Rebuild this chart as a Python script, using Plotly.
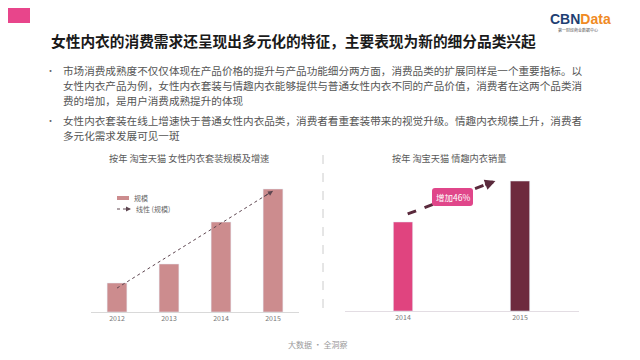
import numpy as np
import plotly.graph_objects as go

# ---------------- data ----------------
left_years = ["2012", "2013", "2014", "2015"]
left_values = [29, 48, 90, 123]          # 女性内衣套装规模 (relative)
right_years = ["2014", "2015"]
right_values = [100, 146]                # 情趣内衣销量 (relative index)

title_text = "女性内衣的消费需求还呈现出多元化的特征，主要表现为新的细分品类兴起"
bullet_lines = [
    ("•", "市场消费成熟度不仅仅体现在产品价格的提升与产品功能细分两方面，消费品类的扩展同样是一个重要指标。以"),
    ("", "女性内衣产品为例，女性内衣套装与情趣内衣能够提供与普通女性内衣不同的产品价值，消费者在这两个品类消"),
    ("", "费的增加，是用户消费成熟提升的体现"),
    ("•", "女性内衣套装在线上增速快于普通女性内衣品类，消费者看重套装带来的视觉升级。情趣内衣规模上升，消费者"),
    ("", "多元化需求发展可见一斑"),
]
left_title = "按年 淘宝天猫 女性内衣套装规模及增速"
right_title = "按年 淘宝天猫 情趣内衣销量"
legend_bar = "规模"
legend_line = "线性 (规模)"
footer = "大数据 · 全洞察"

W, H = 640, 360
OFF = 8  # default page body margin of the html page
FONT = "Noto Sans CJK SC, Noto Sans, sans-serif"


def px(x):
    return (x - OFF) / W


def py(y):
    return 1 - (y - OFF) / H


def txt(x, y, text, size, color, xanchor="left", **kw):
    return dict(x=px(x), y=py(y), xref="paper", yref="paper", xanchor=xanchor,
                yanchor="middle", text=text, showarrow=False,
                font=dict(size=size, color=color, family=kw.pop("family", FONT)), **kw)


fig = go.Figure()

# left bars
fig.add_trace(go.Bar(x=left_years, y=left_values, marker_color="#cc8c8e",
                     width=0.38, xaxis="x", yaxis="y", showlegend=False,
                     hoverinfo="x+y"))
# linear trend
xs = np.arange(len(left_values))
k, b = np.polyfit(xs, left_values, 1)
trend = k * xs + b
fig.add_trace(go.Scatter(x=[left_years[0], left_years[-1]], y=[trend[0], trend[-1]],
                         mode="lines", line=dict(color="#5e4650", width=1, dash="dot"),
                         xaxis="x", yaxis="y", showlegend=False, hoverinfo="skip"))

# right bars
fig.add_trace(go.Bar(x=right_years, y=right_values, marker_color=["#e0447f", "#6e2a3e"],
                     width=0.165, xaxis="x2", yaxis="y2", showlegend=False,
                     hoverinfo="x+y"))
# dashed growth arrow
ax0, ay0 = 0.04, right_values[0] * 1.09
ax1, ay1 = 0.79, right_values[1]
fig.add_trace(go.Scatter(x=[ax0, ax1 - 0.03], y=[ay0, ay1 - 1.3],
                         mode="lines", line=dict(color="#5a2a3c", width=3, dash="dash"),
                         xaxis="x3", yaxis="y2", showlegend=False, hoverinfo="skip"))

annotations = []
shapes = []

# left trend arrowhead
annotations.append(dict(x=3, y=trend[-1], ax=2.8, ay=trend[-1] - k * 0.2,
                        xref="x", yref="y", axref="x", ayref="y",
                        showarrow=True, arrowhead=2, arrowsize=1, arrowwidth=1,
                        arrowcolor="#5e4650", text=""))
# right arrowhead
annotations.append(dict(x=ax1, y=ay1, ax=ax1 - 0.1, ay=ay1 - (ay1 - ay0) / (ax1 - ax0) * 0.1,
                        xref="x3", yref="y2", axref="x3", ayref="y2",
                        showarrow=True, arrowhead=2, arrowsize=0.7, arrowwidth=3,
                        arrowcolor="#5a2a3c", text=""))

# growth label
pct = round((right_values[1] / right_values[0] - 1) * 100)
bx0, bx1, by0, by1, r = 432, 473, 188, 206, 3
path = (f"M {px(bx0 + r)},{py(by0)} L {px(bx1 - r)},{py(by0)} "
        f"Q {px(bx1)},{py(by0)} {px(bx1)},{py(by0 + r)} L {px(bx1)},{py(by1 - r)} "
        f"Q {px(bx1)},{py(by1)} {px(bx1 - r)},{py(by1)} L {px(bx0 + r)},{py(by1)} "
        f"Q {px(bx0)},{py(by1)} {px(bx0)},{py(by1 - r)} L {px(bx0)},{py(by0 + r)} "
        f"Q {px(bx0)},{py(by0)} {px(bx0 + r)},{py(by0)} Z")
shapes.append(dict(type="path", path=path, xref="paper", yref="paper",
                   fillcolor="#e0468a", line=dict(width=0), layer="above"))
annotations.append(txt((bx0 + bx1) / 2, (by0 + by1) / 2, f"增加{pct}%", 8.5, "white",
                       xanchor="center"))

# header pink block
shapes.append(dict(type="rect", xref="paper", yref="paper", x0=px(0), x1=px(30),
                   y0=py(23), y1=py(0), fillcolor="#e8458b", line=dict(width=0)))

# title
annotations.append(txt(49, 40, f"<b>{title_text}</b>", 14.7, "#1a1a1a"))

# logo
annotations.append(txt(580, 19,
                       "<b><span style='color:#1f3f73'>CBN</span><span style='color:#f08a24'>Data</span></b>",
                       14, "#1f3f73", xanchor="center", family="Liberation Sans, Arial, sans-serif"))
annotations.append(txt(578, 30, "第一财经商业数据中心", 4, "#555", xanchor="center"))

# bullets
line_y = [70, 85, 100, 120, 135]
for (bullet, line), yy in zip(bullet_lines, line_y):
    if bullet:
        annotations.append(txt(50, yy, bullet, 9, "#666", xanchor="center"))
    annotations.append(txt(61, yy, line, 10.6, "#555"))

# chart titles
annotations.append(txt(107, 158, left_title, 9.2, "#595959"))
annotations.append(txt(390, 158, right_title, 9.2, "#595959"))

# manual legend (left chart)
shapes.append(dict(type="rect", xref="paper", yref="paper", x0=px(117), x1=px(129),
                   y0=py(200), y1=py(196), fillcolor="#cc8c8e", line=dict(width=0)))
annotations.append(txt(132, 198, legend_bar, 7, "#666"))
shapes.append(dict(type="line", xref="paper", yref="paper", x0=px(117), x1=px(129),
                   y0=py(209), y1=py(209), line=dict(color="#5e4650", width=1, dash="dot")))
annotations.append(dict(x=px(131), y=py(209), ax=-5, ay=0,
                        xref="paper", yref="paper", axref="pixel", ayref="pixel",
                        showarrow=True, arrowhead=2, arrowsize=1, arrowwidth=1,
                        arrowcolor="#5e4650", text=""))
annotations.append(txt(134, 209, legend_line, 7, "#666"))

# separator
shapes.append(dict(type="line", xref="paper", yref="paper", x0=px(323), x1=px(323),
                   y0=py(155), y1=py(316), line=dict(color="#cccccc", width=1, dash="dash")))

# footer
annotations.append(txt(318, 344, footer, 8, "#9a9a9a", xanchor="center"))

axis_common = dict(showgrid=False, zeroline=False, fixedrange=True)

fig.update_layout(
    width=W, height=H,
    margin=dict(l=0, r=0, t=0, b=0),
    paper_bgcolor="white", plot_bgcolor="rgba(0,0,0,0)",
    font=dict(family=FONT),
    showlegend=False,
    xaxis=dict(domain=[px(91), px(299)], type="category", range=[-0.5, 3.5],
               showline=True, linecolor="#d9d9d9", linewidth=1,
               ticks="", tickfont=dict(size=7, color="#777"), anchor="y", **axis_common),
    yaxis=dict(domain=[py(312), py(170)], range=[0, 142], visible=False, anchor="x", **axis_common),
    xaxis2=dict(domain=[px(344.5), px(578.5)], type="category", range=[-0.5, 1.5],
                showline=True, linecolor="#e3dde3", linewidth=1,
                ticks="", tickfont=dict(size=7, color="#777"), anchor="y2", **axis_common),
    xaxis3=dict(domain=[px(344.5), px(578.5)], range=[-0.5, 1.5], visible=False,
                overlaying="x2", anchor="y2", **axis_common),
    yaxis2=dict(domain=[py(311), py(170)], range=[0, 158.4], visible=False, anchor="x2", **axis_common),
    shapes=shapes,
    annotations=annotations,
)

fig.write_html("out.html")
